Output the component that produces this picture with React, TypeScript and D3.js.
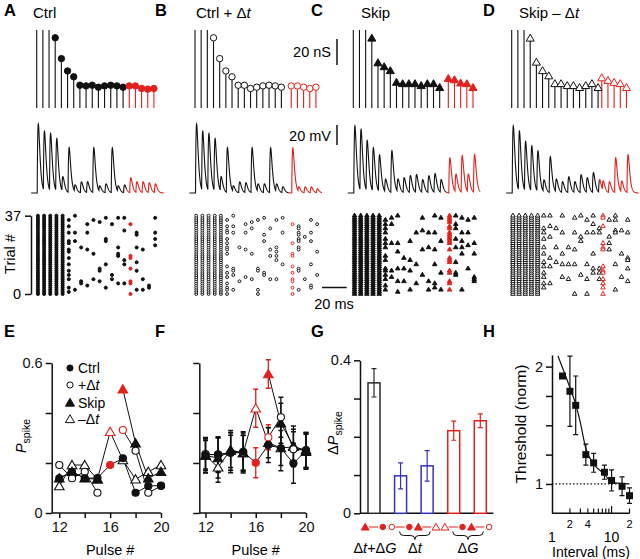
import React, { useEffect, useRef } from 'react';
import * as d3 from 'd3';

const RED = '#e3201b';
const BLUE = '#3532c0';
const INK = '#111';
const FONT = "'Liberation Sans', Arial, Helvetica, sans-serif";

const nTrials = 38;
const ALL = d3.range(nTrials);

// A-D: pulse times (ms after first pulse); pulses 16-20 are drawn red
const tCtrl = [0, 5, 10, 15, 20, 25, 30, 35, 40, 45, 50, 55, 60, 65, 70, 75, 80, 85, 90, 95];
const tPlus = [0, 5, 10, 15, 20, 25, 30, 35, 40, 45, 50, 55, 60, 65, 70, 78, 83, 88, 93, 98];
const tSkip = [0, 5, 10, 15, 20, 25, 30, 35, 40, 45, 50, 55, 60, 65, 70, 77, 82, 87, 92, 97];
const tMinus = [0, 5, 10, 15, 20, 25, 30, 35, 40, 45, 50, 55, 60, 65, 70, 73, 78, 83, 88, 93];

// synaptic conductance per pulse (nS); the first three run off the top
const gCtrl = [65, 65, 65, 54, 38, 28.5, 24, 17.5, 17, 17.5, 16, 17, 17.5, 17, 16, 17, 17, 15, 14.5, 15];
const gPlus = [65, 65, 65, 54, 38, 28.5, 24, 17.5, 17.5, 15, 16, 17, 17.5, 17, 16, 17, 17, 16, 15, 16];
const gSkip = [65, 65, 65, 54, 35, 32, 29, 20, 19, 19, 19, 17.5, 19, 19, 16, 23, 22, 19.5, 19, 16];
const gMinus = [65, 65, 65, 54, 35.5, 29, 25, 19, 19, 17.5, 17.5, 16, 17.5, 19, 16, 23.5, 21.5, 20, 19, 16];

// peak depolarisation per pulse (mV)
const vCtrl = [69, 60, 58, 53, 15, 45, 7, 11, 11, 45, 6, 9, 45, 6, 8, 15, 11, 11, 10, 9];
const vPlus = [69, 60, 58, 53, 15, 45, 6, 11, 10, 45, 8, 9, 45, 8, 6, 45, 5, 6, 6, 4];
const vSkip = [67, 62, 51, 44, 37, 13, 42, 13, 15, 17, 18, 13, 17, 19, 13, 35, 18, 37, 18, 38];
const vMinus = [67, 60, 50, 46, 41, 12, 36, 13, 11, 16, 11, 18, 15, 20, 13, 10, 11, 35, 11, 38];

// rasters: trials (0-37) that fired on each pulse
const rCtrl = [ALL, ALL, ALL, ALL, ALL,
  [35, 32, 29, 25, 24, 21, 20, 17, 14, 11, 9, 7, 3, 1], [37, 29, 25, 2], [22, 6, 5], [33, 29, 21, 4],
  [35, 19, 7], [34, 12, 11, 6], [36, 26, 25, 14, 3], [33, 9, 7], [36, 22, 19, 18, 5], [36, 30, 16, 14, 5],
  [33, 18, 17, 12, 6, 5, 0], [29, 28, 22, 15, 11, 2], [21, 7, 2], [4, 3], [36, 29, 26, 23]];
const rPlus = [ALL, ALL, ALL, ALL, ALL,
  [35, 32, 30, 29, 26, 24, 22, 21, 19, 13, 10, 8, 5, 3, 2, 0], [37, 32, 29, 12, 11, 9, 2], [22, 6], [33, 29, 21, 8],
  [34, 31, 19, 7], [35, 12, 11, 2, 0], [36, 28, 25, 10, 9], [31, 21, 18, 7], [35, 22, 20, 18, 16, 7], [36, 29, 14],
  [33, 24, 19, 18, 13, 10, 7, 6, 3, 0], [32, 31, 29, 28, 26, 25, 22, 21, 12, 11, 2], [27, 7], [35, 29, 25, 14, 4, 3], [33, 20, 9]];
const rSkip = [ALL, ALL, ALL, ALL, ALL,
  [35, 33, 31, 29, 26, 24, 22, 18, 16, 12, 11, 9, 7, 4, 2], [36, 33, 24, 11, 8], [37, 24, 20, 12, 6, 1], [17, 12, 6],
  [25, 16, 11, 2], [29, 14, 5], [36, 30, 21, 9], [29, 22, 6, 2], [37, 29, 21, 14, 5, 3], [36, 25, 10, 2],
  [37, 36, 35, 34, 32, 31, 29, 28, 27, 26, 25, 24, 21, 17, 16, 15, 11, 10, 6, 5, 2], [37, 33, 31, 26, 22, 15, 10, 9],
  [36, 29, 25, 22, 19, 2], [35, 29, 23, 12], [36, 24, 19, 8, 7, 6]];
const rMinus = [ALL, ALL, ALL, ALL, ALL,
  [37, 31, 29, 26, 22, 19, 15, 13, 10, 8, 5, 3], [37, 32, 27, 17, 13, 5], [31, 22, 15], [37, 29, 19, 14, 8],
  [22, 14, 7], [36, 29, 21, 14, 0], [37, 27, 25, 9], [35, 29, 14, 7, 0], [37, 33, 29, 19, 12, 10], [31, 29, 12, 10, 7],
  [37, 36, 32, 24, 22, 21, 13, 11, 10, 7, 5, 3, 0], [35, 27, 24, 21], [37, 35, 30, 29, 14, 2], [30, 19, 8],
  [35, 29, 17, 16, 12, 6]];

// E: spike probability, example cell (null = no pulse at that position)
const pulseNo = [12, 13, 14, 15, 16, 17, 18, 19, 20];
const eCtrl = [0.139, 0.165, 0.139, 0.14, 0.192, 0.219, 0.081, 0.108, 0.11];
const ePlus = [0.192, 0.139, 0.165, 0.081, null, 0.332, 0.249, 0.081, 0.108];
const eSkip = [0.139, 0.165, 0.139, 0.135, null, 0.495, 0.279, 0.139, 0.165];
const eMinus = [0.108, 0.192, 0.192, 0.135, 0.325, 0.212, 0.135, 0.165, 0.192];

// F: population mean +- sem
const fCtrl = [0.232, 0.235, 0.241, 0.245, 0.201, 0.272, 0.259, 0.199, 0.249];
const fCtrlErr = [0.07, 0.07, 0.08, 0.08, 0.06, 0.07, 0.09, 0.08, 0.07];
const fPlus = [0.236, 0.232, 0.241, 0.241, null, 0.303, 0.383, 0.255, 0.252];
const fPlusErr = [0.06, 0.07, 0.07, 0.07, null, 0.05, 0.08, 0.07, 0.07];
const fSkip = [0.23, 0.22, 0.25, 0.24, null, 0.556, 0.359, 0.268, 0.245];
const fSkipErr = [0.06, 0.08, 0.08, 0.07, null, 0.057, 0.08, 0.08, 0.07];
const fMinus = [0.23, 0.183, 0.252, 0.24, 0.419, 0.281, 0.26, 0.265, 0.252];
const fMinusErr = [0.07, 0.06, 0.07, 0.08, 0.076, 0.06, 0.07, 0.07, 0.07];

// G: change in spike probability
const gPairs = [['triF', 'circF'], ['circO', 'circF'], ['triF', 'triO'], ['triO', 'circF'], ['triF', 'circO']];
const gGroup = ['both', 'dt', 'dt', 'dG', 'dG'];
const gVals = [0.341, 0.098, 0.124, 0.216, 0.242];
const gErrs = [0.037, 0.034, 0.04, 0.025, 0.018];

// H: threshold vs interval
const hInterval = [1.5, 2, 2.5, 3.7, 5, 7.6, 10, 15, 20];
const hThresh = [1.92, 1.79, 1.67, 1.25, 1.18, 1.1, 1.03, 0.98, 0.9];
const hErr = [0, 0.3, 0.25, 0.09, 0.08, 0.06, 0.09, 0.08, 0.066];
const fitT = [1.26, 1.5, 2, 2.5, 3, 3.7, 5, 7.6, 10, 20];
const fitV = [2.09, 1.99, 1.82, 1.68, 1.52, 1.3, 1.17, 1.085, 1.014, 1.0];

const App = () => {
  const ref = useRef<SVGSVGElement>(null);

  useEffect(() => {
    const svg = d3.select(ref.current);
    svg.selectAll('*').remove();
    svg.attr('font-family', FONT).attr('font-size', 14.5);

    const sym = (shape: string, size: number) =>
      d3.symbol().type(shape === 'tri' ? d3.symbolTriangle : d3.symbolCircle).size(size)();

    const mark = (g: any, x: number, y: number, shape: string, filled: boolean, color: string, size: number, sw = 1) =>
      g.append('path')
        .attr('d', sym(shape, size))
        .attr('transform', `translate(${x},${y})`)
        .attr('fill', filled ? color : '#fff')
        .attr('stroke', color)
        .attr('stroke-width', sw);

    const rich = (g: any, x: number, y: number, parts: any[], anchor = 'start') => {
      const t = g.append('text').attr('x', x).attr('y', y).attr('text-anchor', anchor);
      parts.forEach(([s, it, sub]) => {
        const ts = t.append('tspan').text(s);
        if (it) ts.attr('font-style', 'italic');
        if (sub) ts.attr('font-size', 10.5).attr('dy', 3.5);
      });
      return t;
    };

    const letter = (x: number, y: number, s: string) =>
      svg.append('text').attr('x', x).attr('y', y).attr('font-weight', 'bold').attr('font-size', 16.5).text(s);

    // ---------- A-D ----------
    const yG = d3.scaleLinear().domain([0, 60]).range([108, 30]).clamp(true);
    const yV = d3.scaleLinear().domain([0, 70]).range([193, 123]);
    const yT = d3.scaleLinear().domain([0, 37]).range([294, 215.7]);
    const redFrom = 15;
    const lat = 1;

    const top = [
      { L: 'A', lx: 4, tx: 33, title: [['Ctrl']], x0: 36.7, t: tCtrl, g: gCtrl, v: vCtrl, r: rCtrl, shape: 'circ', filled: true },
      { L: 'B', lx: 155, tx: 196, title: [['Ctrl + Δ'], ['t', 1]], x0: 195, t: tPlus, g: gPlus, v: vPlus, r: rPlus, shape: 'circ', filled: false },
      { L: 'C', lx: 311, tx: 361, title: [['Skip']], x0: 353.3, t: tSkip, g: gSkip, v: vSkip, r: rSkip, shape: 'tri', filled: true },
      { L: 'D', lx: 483, tx: 519, title: [['Skip – Δ'], ['t', 1]], x0: 511.7, t: tMinus, g: gMinus, v: vMinus, r: rMinus, shape: 'tri', filled: false },
    ];

    const kernel = (s: number) => {
      const u = s - 0.4;
      return u <= 0 ? 0 : (u / 0.9) * Math.exp(1 - u / 0.9);
    };

    top.forEach((p) => {
      const xs = d3.scaleLinear().domain([0, 100]).range([p.x0, p.x0 + 123.4]);
      letter(p.lx, 16, p.L);
      rich(svg, p.tx, 17.5, p.title).attr('font-size', 15);

      // conductance stems
      const gs = svg.append('g');
      p.t.forEach((t, i) => {
        gs.append('line')
          .attr('x1', xs(t)).attr('x2', xs(t))
          .attr('y1', yG(0)).attr('y2', yG(p.g[i]))
          .attr('stroke', i >= redFrom ? RED : INK)
          .attr('stroke-width', 1.1);
      });
      p.t.forEach((t, i) => {
        if (p.g[i] <= 60) {
          const c = i >= redFrom ? RED : INK;
          mark(gs, xs(t), yG(p.g[i]) + (p.shape === 'tri' ? 1 : 0), p.shape, p.filled, c, p.shape === 'tri' ? 28 : 32);
        }
      });

      // membrane potential trace
      const samples = d3.range(-4.5, 103, 0.1);
      const vAt = (s: number) => d3.sum(p.t, (ti: number, i: number) => p.v[i] * kernel(s - ti));
      const split = p.t[redFrom] - 2;
      const line = d3.line<number>().x((s) => xs(s)).y((s) => yV(vAt(s)));
      svg.append('path').attr('d', line(samples.filter((s) => s <= split)))
        .attr('fill', 'none').attr('stroke', INK).attr('stroke-width', 1.1);
      svg.append('path').attr('d', line(samples.filter((s) => s >= split - 0.05)))
        .attr('fill', 'none').attr('stroke', RED).attr('stroke-width', 1.1);

      // raster
      const gr = svg.append('g');
      p.r.forEach((trials, i) => {
        const c = i === redFrom ? RED : INK;
        trials.forEach((tr) => {
          mark(gr, xs(p.t[i] + lat), yT(tr), p.shape, p.filled, c, p.shape === 'tri' ? 9 : (p.filled ? 7.5 : 6.5), 0.95);
        });
      });

      if (p.L === 'A') {
        const ax = svg.append('g').attr('transform', 'translate(31,0)')
          .call(d3.axisLeft(yT).tickValues([0, 37]).tickSize(6).tickSizeOuter(0).tickPadding(4));
        ax.attr('font-family', FONT).attr('font-size', 14.5);
        ax.selectAll('path, line').attr('stroke', INK).attr('stroke-width', 1.5);
        svg.append('text').attr('transform', 'translate(15,254) rotate(-90)').attr('text-anchor', 'middle').text('Trial #');
      }

      if (p.L === 'C') {
        // scale bars
        const sb = svg.append('g').attr('stroke', INK).attr('stroke-width', 1.5);
        sb.append('line').attr('x1', 337).attr('x2', 337).attr('y1', 65).attr('y2', 65 - (yG(0) - yG(20)));
        sb.append('line').attr('x1', 337).attr('x2', 337).attr('y1', 145).attr('y2', 145 - (yV(0) - yV(20)));
        sb.append('line').attr('x1', 322).attr('x2', 322 + xs(20) - xs(0)).attr('y1', 287.5).attr('y2', 287.5);
        svg.append('text').attr('x', 331).attr('y', 57).attr('text-anchor', 'end').text('20 nS');
        svg.append('text').attr('x', 331).attr('y', 141).attr('text-anchor', 'end').text('20 mV');
        svg.append('text').attr('x', 334).attr('y', 309).attr('text-anchor', 'middle').text('20 ms');
      }
    });

    // ---------- E & F ----------
    const yP = d3.scaleLinear().domain([0, 0.6]).range([513, 363]);
    const xE = d3.scaleLinear().domain([12, 20]).range([59.3, 161]);
    const xF = d3.scaleLinear().domain([12, 20]).range([205.5, 306]);

    const styleAxis = (ax: any, w = 1.5) => {
      ax.attr('font-family', FONT).attr('font-size', 14.5);
      ax.selectAll('path, line').attr('stroke', INK).attr('stroke-width', w);
      ax.selectAll('text').attr('fill', INK);
    };

    const pulseAxes = (xs: any, x0: number, labelY: boolean) => {
      const ay = svg.append('g').attr('transform', `translate(${x0},0)`)
        .call(d3.axisLeft(yP).tickValues([0, 0.2, 0.4, 0.6]).tickSize(6).tickSizeOuter(0).tickPadding(3)
          .tickFormat((d: any) => (!labelY ? '' : d === 0 ? '0' : d === 0.6 ? '0.6' : '')));
      styleAxis(ay);
      const axx = svg.append('g').attr('transform', 'translate(0,513)')
        .call(d3.axisBottom(xs).tickValues([12, 14, 16, 18, 20]).tickSize(5).tickSizeOuter(0).tickPadding(4)
          .tickFormat((d: any) => (d % 4 === 0 ? String(d) : '')));
      axx.select('path.domain').remove();
      styleAxis(axx);
      svg.append('line').attr('x1', x0).attr('x2', xs(20)).attr('y1', 513).attr('y2', 513)
        .attr('stroke', INK).attr('stroke-width', 1.5);
      svg.append('text').attr('x', (xs(12) + xs(20)) / 2).attr('y', 555).attr('text-anchor', 'middle').text('Pulse #');
    };

    const seriesDefs = (v: any[], e: any[] | null) => [
      { v: v[3], e: e ? e[3] : null, shape: 'tri', filled: false, red: 16 },
      { v: v[2], e: e ? e[2] : null, shape: 'tri', filled: true, red: 17 },
      { v: v[1], e: e ? e[1] : null, shape: 'circ', filled: false, red: 17 },
      { v: v[0], e: e ? e[0] : null, shape: 'circ', filled: true, red: 16 },
    ];

    const drawSeries = (xs: any, list: any[]) => {
      const g = svg.append('g');
      const line = d3.line<any>().defined((d) => d.v != null).x((d) => xs(d.p)).y((d) => yP(d.v));
      const rows = list.map((s) => ({ ...s, pts: pulseNo.map((p, i) => ({ p, v: s.v[i], e: s.e ? s.e[i] : null })) }));
      rows.forEach((s) => {
        g.append('path').datum(s.pts).attr('d', line).attr('fill', 'none').attr('stroke', INK).attr('stroke-width', 1);
      });
      rows.forEach((s) => {
        s.pts.forEach((d: any) => {
          if (d.v == null || d.e == null) return;
          const c = d.p === s.red ? RED : INK;
          const x = xs(d.p);
          g.append('path')
            .attr('d', `M${x},${yP(d.v - d.e)}V${yP(d.v + d.e)}M${x - 2.5},${yP(d.v + d.e)}h5M${x - 2.5},${yP(d.v - d.e)}h5`)
            .attr('stroke', c).attr('stroke-width', 1.3).attr('fill', 'none');
        });
      });
      rows.forEach((s) => {
        s.pts.forEach((d: any) => {
          if (d.v == null) return;
          const c = d.p === s.red ? RED : INK;
          mark(g, xs(d.p), yP(d.v) + (s.shape === 'tri' ? 1 : 0), s.shape, s.filled, c, 40, 1.1);
        });
      });
    };

    // E
    letter(4, 337, 'E');
    pulseAxes(xE, 51.7, true);
    drawSeries(xE, seriesDefs([eCtrl, ePlus, eSkip, eMinus], null));
    rich(svg, 0, 0, [['P', 1], ['spike', 0, 1]], 'middle').attr('transform', 'translate(26,436) rotate(-90)');
    const legend = [
      { shape: 'circ', filled: true, text: [['Ctrl']] },
      { shape: 'circ', filled: false, text: [['+Δ'], ['t', 1]] },
      { shape: 'tri', filled: true, text: [['Skip']] },
      { shape: 'tri', filled: false, text: [['–Δ'], ['t', 1]] },
    ];
    const legY = [368, 385, 402.5, 419];
    legend.forEach((l, i) => {
      mark(svg, 70, legY[i] + (l.shape === 'tri' ? 1 : 0), l.shape, l.filled, INK, l.shape === 'tri' ? 36 : 30, 1);
      rich(svg, 78, legY[i] + 5, l.text).attr('font-size', 14);
    });

    // F
    letter(155, 337, 'F');
    pulseAxes(xF, 199.3, false);
    drawSeries(xF, seriesDefs([fCtrl, fPlus, fSkip, fMinus], [fCtrlErr, fPlusErr, fSkipErr, fMinusErr]));

    // ---------- G ----------
    letter(311, 337, 'G');
    const yD = d3.scaleLinear().domain([0, 0.4]).range([513.3, 360.3]);
    const xB = d3.scalePoint<number>().domain(d3.range(gVals.length)).range([374, 480.3]);
    const gColor: any = { both: '#2a2a2a', dt: BLUE, dG: RED };
    const ayG = svg.append('g').attr('transform', 'translate(360,0)')
      .call(d3.axisLeft(yD).tickValues([0, 0.1, 0.2, 0.3, 0.4]).tickSize(6).tickSizeOuter(0).tickPadding(3)
        .tickFormat((d: any) => (d === 0 ? '0' : d === 0.4 ? '0.4' : '')));
    styleAxis(ayG);
    svg.append('line').attr('x1', 360).attr('x2', 493.3).attr('y1', 513.3).attr('y2', 513.3)
      .attr('stroke', INK).attr('stroke-width', 1.5);
    gVals.forEach((v, i) => {
      const c = gColor[gGroup[i]];
      const x = xB(i) as number;
      svg.append('rect').attr('x', x - 6).attr('width', 12).attr('y', yD(v)).attr('height', yD(0) - yD(v))
        .attr('fill', '#fff').attr('stroke', c).attr('stroke-width', 1.5);
      const e = gErrs[i];
      svg.append('path')
        .attr('d', `M${x},${yD(v - e)}V${yD(v + e)}M${x - 2.5},${yD(v + e)}h5M${x - 2.5},${yD(v - e)}h5`)
        .attr('stroke', c).attr('stroke-width', 1.2).attr('fill', 'none');
      // comparison symbols
      const [a, b] = gPairs[i];
      svg.append('line').attr('x1', x - 5).attr('x2', x + 4).attr('y1', 527).attr('y2', 527)
        .attr('stroke', RED).attr('stroke-width', 1);
      [a, b].forEach((s, k) => {
        const tri = s.startsWith('tri');
        mark(svg, x + (k ? 8.8 : -8.8), 527 + (tri ? 0.8 : 0), tri ? 'tri' : 'circ', s.endsWith('F'), RED, tri ? 26 : 24, 1);
      });
    });
    const brace = (x1: number, x2: number, y: number, h: number) => {
      const xm = (x1 + x2) / 2;
      const q = h / 2;
      return `M${x1},${y}Q${x1},${y + q} ${x1 + q},${y + q}L${xm - q},${y + q}Q${xm},${y + q} ${xm},${y + h}` +
        `Q${xm},${y + q} ${xm + q},${y + q}L${x2 - q},${y + q}Q${x2},${y + q} ${x2},${y}`;
    };
    const groups = [
      { ids: [0], text: [['Δ'], ['t', 1], ['+Δ'], ['G', 1]] },
      { ids: [1, 2], text: [['Δ'], ['t', 1]] },
      { ids: [3, 4], text: [['Δ'], ['G', 1]] },
    ];
    groups.forEach((gr) => {
      const xa = xB(gr.ids[0]) as number;
      const xb = xB(gr.ids[gr.ids.length - 1]) as number;
      if (gr.ids.length > 1) {
        svg.append('path').attr('d', brace(xa - 1, xb + 3, 531.5, 8)).attr('fill', 'none')
          .attr('stroke', INK).attr('stroke-width', 1);
      }
      rich(svg, (xa + xb) / 2 + 1, 553, gr.text, 'middle');
    });
    rich(svg, 0, 0, [['Δ'], ['P', 1], ['spike', 0, 1]], 'middle').attr('transform', 'translate(338,433) rotate(-90)');

    // ---------- H ----------
    letter(483, 337, 'H');
    const xH = d3.scaleLog().domain([1, 20]).range([552, 629.5]);
    const yH = d3.scaleLinear().domain([0.75, 2.1]).range([513.3, 354.9]);
    const ayH = svg.append('g').attr('transform', 'translate(552,0)')
      .call(d3.axisLeft(yH).tickValues([1, 1.25, 1.5, 1.75, 2]).tickSize(6).tickSizeOuter(0).tickPadding(3)
        .tickFormat((d: any) => (d === 1 || d === 2 ? String(d) : '')));
    styleAxis(ayH);
    svg.append('line').attr('x1', 552).attr('x2', xH(20)).attr('y1', 513.3).attr('y2', 513.3)
      .attr('stroke', INK).attr('stroke-width', 1.5);
    const minor = [2, 3, 4, 5, 6, 7, 8, 9, 10, 20];
    minor.forEach((m) => {
      svg.append('line').attr('x1', xH(m)).attr('x2', xH(m)).attr('y1', 513.3).attr('y2', m === 10 ? 506 : 508.5)
        .attr('stroke', INK).attr('stroke-width', 1.2);
    });
    [[2, '2'], [4, '4'], [20, '2']].forEach(([m, s]) => {
      svg.append('text').attr('x', xH(m as number)).attr('y', 528).attr('text-anchor', 'middle')
        .attr('font-size', 11).text(s as string);
    });
    [[1, '1'], [10, '10']].forEach(([m, s]) => {
      svg.append('text').attr('x', xH(m as number)).attr('y', 542).attr('text-anchor', 'middle')
        .attr('font-size', 14).text(s as string);
    });
    svg.append('text').attr('x', 591).attr('y', 557).attr('text-anchor', 'middle').attr('font-size', 14)
      .text('Interval (ms)');
    svg.append('text').attr('transform', 'translate(526,424) rotate(-90)').attr('text-anchor', 'middle')
      .attr('font-size', 15.5).text('Threshold (norm)');
    svg.append('line').attr('x1', 552).attr('x2', xH(12.3)).attr('y1', yH(1)).attr('y2', yH(1))
      .attr('stroke', INK).attr('stroke-width', 1.3).attr('stroke-dasharray', '1.5,2');
    const fitLine = d3.line<number>().curve(d3.curveMonotoneX).x((t) => xH(t)).y((_, i) => yH(fitV[i]));
    svg.append('path').attr('d', fitLine(fitT)).attr('fill', 'none').attr('stroke', INK).attr('stroke-width', 1.2);
    hInterval.forEach((t, i) => {
      const x = xH(t);
      const v = hThresh[i];
      const e = hErr[i];
      if (e > 0) {
        svg.append('path')
          .attr('d', `M${x},${yH(v - e)}V${yH(v + e)}M${x - 2.5},${yH(v + e)}h5M${x - 2.5},${yH(v - e)}h5`)
          .attr('stroke', INK).attr('stroke-width', 1.2).attr('fill', 'none');
      }
      svg.append('rect').attr('x', x - 3.5).attr('y', yH(v) - 3.5).attr('width', 7).attr('height', 7).attr('fill', INK);
    });
  }, []);

  return (
    <svg ref={ref} width={640} height={559}
      style={{ position: 'absolute', left: 0, top: 0, background: '#fff' }} />
  );
};

export default App;
